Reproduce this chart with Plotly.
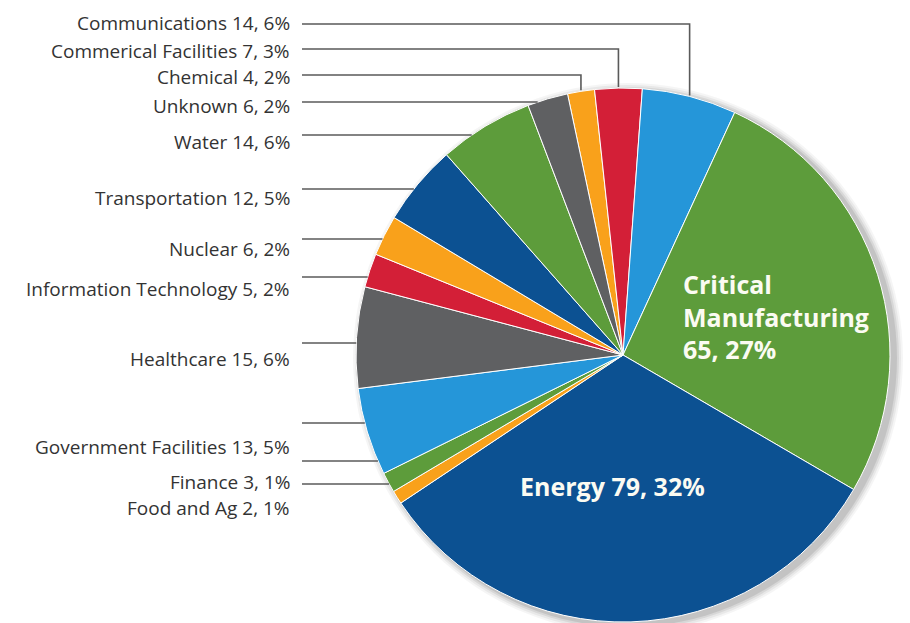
import math
import plotly.graph_objects as go

W, H = 910, 623

# ---- data (clockwise from 12 o'clock) ----
sectors = ["Chemical", "Commerical Facilities", "Communications", "Critical Manufacturing",
           "Energy", "Food and Ag", "Finance", "Government Facilities", "Healthcare",
           "Information Technology", "Nuclear", "Transportation", "Water", "Unknown"]
counts = [4, 7, 14, 65, 79, 2, 3, 13, 15, 5, 6, 12, 14, 6]
percents = [2, 3, 6, 27, 32, 1, 1, 5, 6, 2, 2, 5, 6, 2]
colors = ["#F9A11B", "#D31F37", "#2596D9", "#5D9C3B", "#0C5192", "#F9A11B", "#5D9C3B",
          "#2596D9", "#5F6062", "#D31F37", "#F9A11B", "#0C5192", "#5D9C3B", "#5F6062"]

# ---- layout of the outside labels (pixel rows) ----
outside_order = ["Communications", "Commerical Facilities", "Chemical", "Unknown", "Water",
                 "Transportation", "Nuclear", "Information Technology", "Healthcare",
                 "Government Facilities", "Finance", "Food and Ag"]
label_text_y = [23, 51, 77, 106, 142, 198, 249, 289, 359, 447, 482, 508]
top_labels = ["Communications", "Commerical Facilities", "Chemical"]
top_line_y = [24, 49, 75]
side_line_y = [102, 135, 189, 239, 277, 343, 423, 461, 484]
# template, radial factor, pixel shift (dx, dy)
inside_labels = {"Critical Manufacturing": ("Critical<br>Manufacturing<br>{c}, {p}%", 0.6, (0, 10)),
                 "Energy": ("Energy {c}, {p}%", 0.5, (-14, -2))}

# ---- pie geometry (pixels) ----
CX, CY, R = 623, 355, 267
ROT = -12
LABEL_RIGHT = 291
LINE_START = 302

def px(x):
    return x / W

def py(y):
    return 1 - y / H

total = sum(counts)
mid_angle = {}
acc = ROT
for s, c in zip(sectors, counts):
    a = 360 * c / total
    mid_angle[s] = acc + a / 2
    acc += a

fig = go.Figure()
fig.add_trace(go.Pie(
    labels=sectors, values=counts, sort=False, direction="clockwise", rotation=ROT,
    marker=dict(colors=colors, line=dict(color="white", width=1)),
    textinfo="none", hoverinfo="label+value+percent", showlegend=False,
    domain=dict(x=[px(CX - R), px(CX + R)], y=[py(CY + R), py(CY - R)]),
))

shapes = []
# soft drop shadow
for grow, alpha in [(8, 0.04), (6, 0.05), (4, 0.07), (2, 0.09)]:
    sx, sy = CX + 5, CY + 3
    shapes.append(dict(type="circle", xref="paper", yref="paper", layer="below",
                       x0=px(sx - R - grow), x1=px(sx + R + grow),
                       y0=py(sy + R + grow), y1=py(sy - R - grow),
                       fillcolor=f"rgba(0,0,0,{alpha})", line=dict(width=0)))

line_style = dict(color="#5a5a5a", width=1.6)
# top labels: horizontal then down to slice middle
for s, ly in zip(top_labels, top_line_y):
    ang = math.radians(mid_angle[s])
    vx = CX + R * math.sin(ang)
    vy = CY - math.sqrt(R * R - (vx - CX) ** 2)
    shapes.append(dict(type="path", xref="paper", yref="paper",
                       path=f"M {px(LINE_START)},{py(ly)} L {px(vx)},{py(ly)} L {px(vx)},{py(vy - 1)}",
                       line=line_style))
# side labels: horizontal to the pie edge
for ly in side_line_y:
    ex = CX - math.sqrt(max(R * R - (ly - CY) ** 2, 0))
    shapes.append(dict(type="line", xref="paper", yref="paper",
                       x0=px(LINE_START), x1=px(ex), y0=py(ly), y1=py(ly), line=line_style))

annotations = []
for s, ty in zip(outside_order, label_text_y):
    i = sectors.index(s)
    annotations.append(dict(x=px(LABEL_RIGHT), y=py(ty), xref="paper", yref="paper",
                            xanchor="right", yanchor="middle", showarrow=False, borderpad=0,
                            text=f"{s} {counts[i]}, {percents[i]}%",
                            font=dict(family="Open Sans", size=19, color="#333333")))
for s, (tpl, f, (dx, dy)) in inside_labels.items():
    i = sectors.index(s)
    ang = math.radians(mid_angle[s])
    tx = CX + f * R * math.sin(ang) + dx
    ty = CY - f * R * math.cos(ang) + dy
    annotations.append(dict(x=px(tx), y=py(ty), xref="paper", yref="paper",
                            xanchor="center", yanchor="middle", showarrow=False, align="left",
                            text="<b>" + tpl.format(c=counts[i], p=percents[i]) + "</b>",
                            font=dict(family="Open Sans", size=25, color="#FBFBF2")))

fig.update_layout(width=W, height=H, margin=dict(l=0, r=0, t=0, b=0),
                  paper_bgcolor="white", plot_bgcolor="white",
                  shapes=shapes, annotations=annotations)
fig.write_html("out.html")
